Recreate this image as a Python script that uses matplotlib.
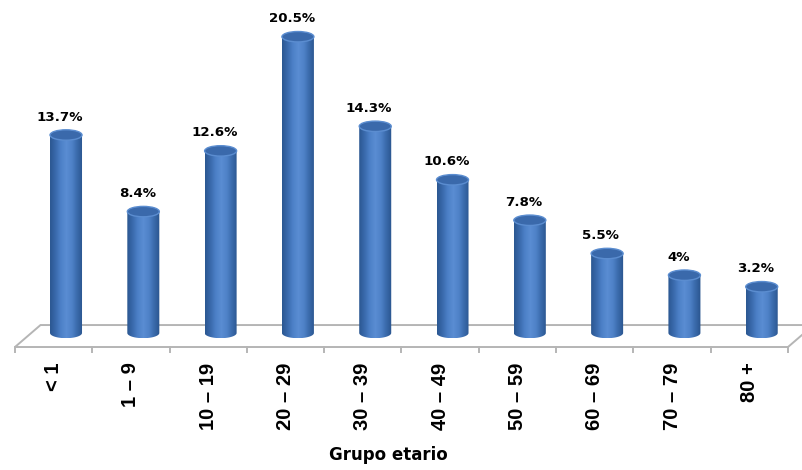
import numpy as np
import matplotlib
matplotlib.use("Agg")
import matplotlib.pyplot as plt
from matplotlib.patches import Ellipse, Polygon
from matplotlib.colors import LinearSegmentedColormap

categories = ["< 1", "1 – 9", "10 – 19", "20 – 29", "30 – 39",
              "40 – 49", "50 – 59", "60 – 69", "70 – 79", "80 +"]
values = [13.7, 8.4, 12.6, 20.5, 14.3, 10.6, 7.8, 5.5, 4.0, 3.2]
value_labels = ["13.7%", "8.4%", "12.6%", "20.5%", "14.3%",
                "10.6%", "7.8%", "5.5%", "4%", "3.2%"]
xlabel = "Grupo etario"

plt.rcParams['font.family'] = ['DejaVu Sans']

fig = plt.figure(figsize=(8.03, 4.70), dpi=100)
ax = fig.add_axes([0, 0, 1, 1])
ax.set_axis_off()

# cylinder look
body_cmap = LinearSegmentedColormap.from_list(
    "cyl", ["#2b5791", "#3a6aad", "#4d81c8", "#5a8dd3", "#4f82c8", "#3a6aab", "#2a558e"])
grad = np.linspace(0, 1, 64).reshape(1, -1)

bar_w = 0.414      # in category units
ell_h = 0.72       # ellipse height, in %
depth_shift = 0.16  # bars sit behind the front edge of the floor
floor_front, floor_back = -0.97, 0.55

n = len(values)
x = np.arange(n)

# floor (parallelogram)
floor = Polygon([(-0.5 - depth_shift, floor_front), (n - 0.5 - depth_shift, floor_front),
                 (n - 0.5 + 0.17, floor_back), (-0.5 + 0.17, floor_back)],
                closed=True, facecolor="white", edgecolor="#b5b5b5", lw=1.4, zorder=1)
ax.add_patch(floor)
for k in range(n + 1):
    ax.plot([k - 0.5 - depth_shift] * 2, [floor_front, floor_front - 0.36],
            color="#b5b5b5", lw=1.4, zorder=1)

for xi, v, lab in zip(x, values, value_labels):
    left, right = xi - bar_w / 2, xi + bar_w / 2
    t = np.linspace(np.pi, 2 * np.pi, 40)
    bottom_pts = [(xi + bar_w / 2 * np.cos(a), ell_h / 2 * np.sin(a)) for a in t]
    outline = bottom_pts + [(right, v), (left, v)]
    clip = Polygon(outline, closed=True, facecolor="none", edgecolor="none")
    ax.add_patch(clip)
    im = ax.imshow(grad, cmap=body_cmap, aspect="auto", interpolation="bilinear",
                   extent=[left, right, -ell_h / 2, v], zorder=2)
    im.set_clip_path(clip)
    top = Ellipse((xi, v), bar_w, ell_h, facecolor="#3a69ab",
                  edgecolor="#5b8dd0", lw=1.0, zorder=3)
    ax.add_patch(top)
    ax.text(xi - 0.08, v + 1.0, lab, ha="center", va="baseline",
            fontsize=9.6, fontweight="bold", color="black", zorder=4)

for xi, c in zip(x, categories):
    ax.text(xi - depth_shift, -2.05, c, rotation=90, ha="center", va="top",
            fontsize=14.5, fontweight="bold", family=["Liberation Sans", "DejaVu Sans"],
            color="black")

ax.text(4.33 - 0.16, -8.45, xlabel, ha="center", va="center",
        fontsize=12, fontweight="bold", color="black")

ax.set_xlim(-0.854, 9.534)
ax.set_ylim(-9.48, 23.04)

fig.savefig("out.png", dpi=100)
